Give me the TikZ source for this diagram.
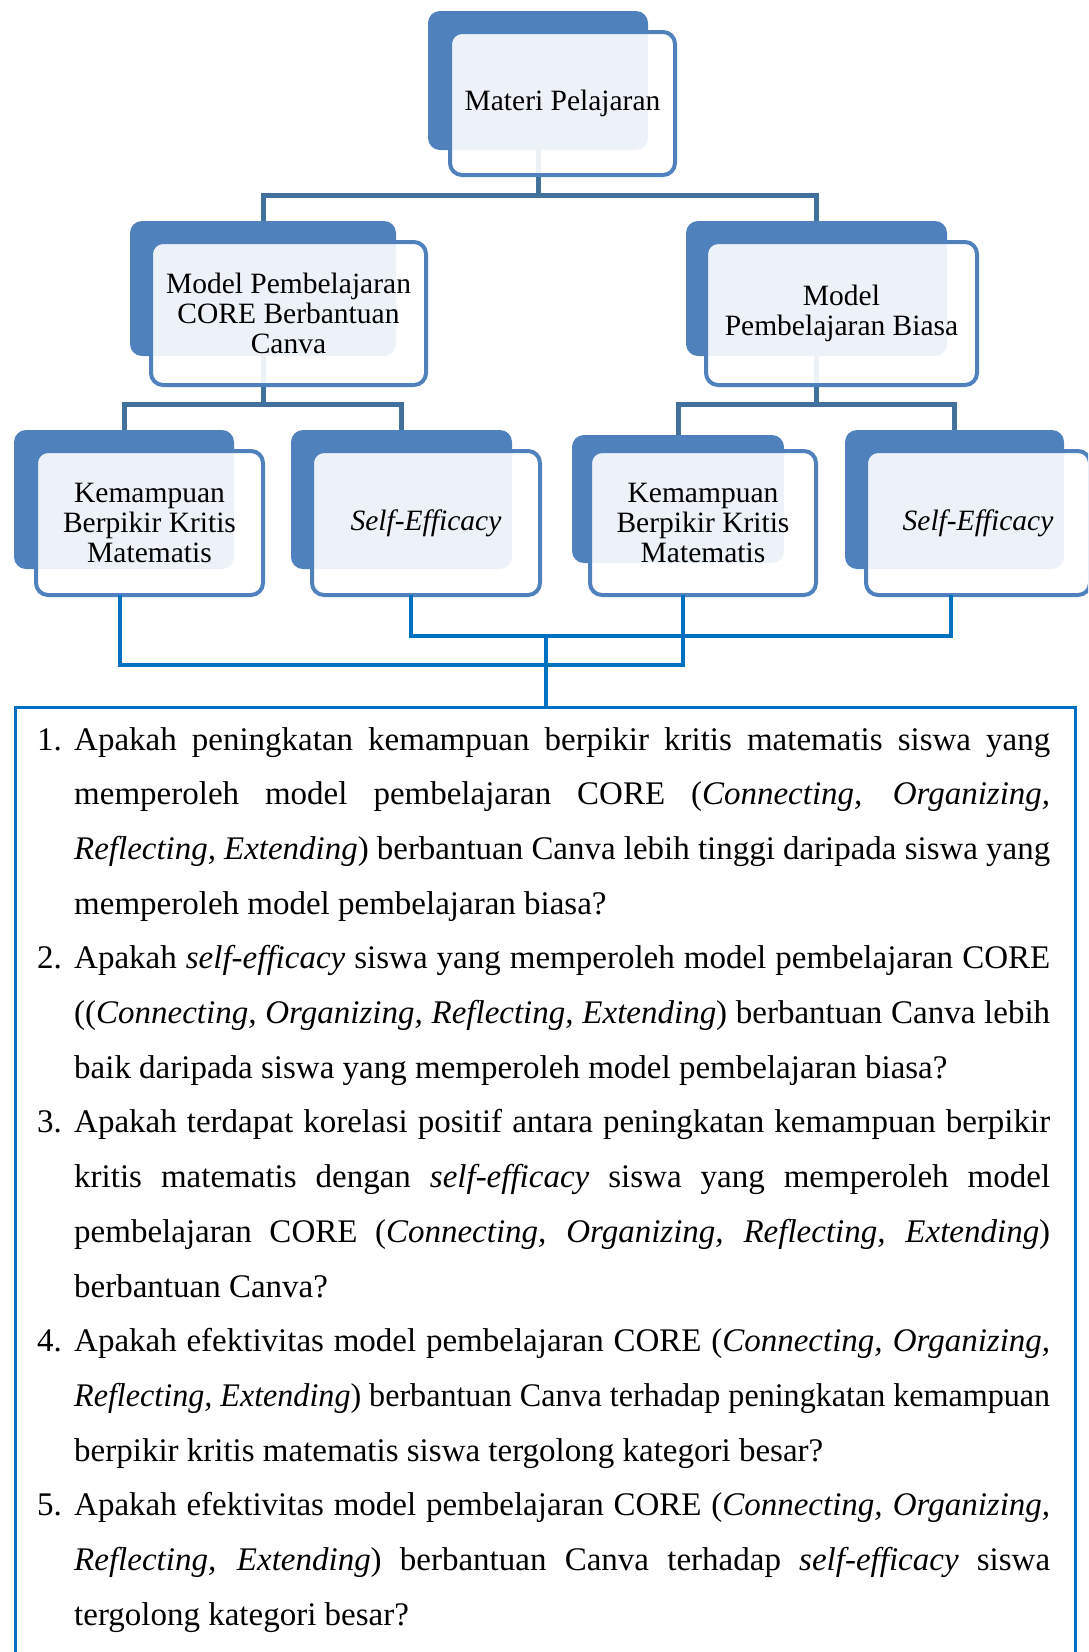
\documentclass[tikz,border=0pt]{standalone}
\usepackage{fontspec}
\setmainfont{Liberation Serif}
\usepackage{graphicx}
\definecolor{bk}{HTML}{4F81BD}
\definecolor{cn}{HTML}{41719C}
\definecolor{lc}{HTML}{0070C0}
\newlength\qw \setlength\qw{976pt}
\newsavebox\qsbox
\newcommand\jl[1]{\sbox\qsbox{#1}\ifdim\wd\qsbox>\qw\resizebox{\qw}{\height}{\usebox\qsbox}\else\makebox[\qw][s]{#1}\fi}
\newcommand\ql[2]{\hbox{\makebox[37pt][l]{#1}\jl{#2}}}
\newcommand\qn[2]{\hbox{\makebox[37pt][l]{#1}#2}}
\begin{document}
\begin{tikzpicture}[x=1pt,y=-1pt,
  backbox/.style={fill=bk, rounded corners=12pt, inner sep=0},
  frontbox/.style={draw=bk, line width=4pt, fill=white, fill opacity=0.9, text opacity=1,
    rounded corners=12pt, inner sep=0, align=center, font=\fontsize{29.5}{30}\selectfont},
  upconn/.style={draw=cn, line width=5pt},
  loconn/.style={draw=lc, line width=4pt}]
\clip (0,0) rectangle (1088,1652);
\fill[white] (0,0) rectangle (1088,1652);

% back shapes
\node[backbox, minimum width=220pt, minimum height=139pt] (tb) at (538,80.5) {};
\node[backbox, minimum width=266pt, minimum height=135pt] (mlb) at (263,288.5) {};
\node[backbox, minimum width=261pt, minimum height=135pt] (mrb) at (816.5,288.5) {};
\node[backbox, minimum width=220pt, minimum height=139pt] (b1b) at (124,499.5) {};
\node[backbox, minimum width=221pt, minimum height=139pt] (b2b) at (401.5,499.5) {};
\node[backbox, minimum width=212pt, minimum height=128pt] (b3b) at (678,499) {};
\node[backbox, minimum width=219pt, minimum height=139pt] (b4b) at (954.5,499.5) {};

% upper connectors
\coordinate (j0) at (538,195);
\coordinate (j1) at (263,404);
\coordinate (j2) at (816.5,404);
\draw[upconn] (tb.south) -- (j0);
\draw[upconn] (mlb.north) |- (j0);
\draw[upconn] (mrb.north) |- (j0);
\draw[upconn] (mlb.south) -- (j1);
\draw[upconn] (b1b.north) |- (j1);
\draw[upconn] (b2b.north) |- (j1);
\draw[upconn] (mrb.south) -- (j2);
\draw[upconn] (b3b.north) |- (j2);
\draw[upconn] (b4b.north) |- (j2);

% front shapes
\node[frontbox, minimum width=225pt, minimum height=143pt] (tf) at (562.5,103.5) {Materi Pelajaran};
\node[frontbox, minimum width=275pt, minimum height=143pt] (mlf) at (288.5,313.5) {Model Pembelajaran\\CORE Berbantuan\\Canva};
\node[frontbox, minimum width=271pt, minimum height=143pt] (mrf) at (841.5,313.5) {Model\\Pembelajaran Biasa};
\node[frontbox, minimum width=227pt, minimum height=144pt] (b1f) at (149.5,523) {Kemampuan\\Berpikir Kritis\\Matematis};
\node[frontbox, minimum width=228pt, minimum height=144pt] (b2f) at (426,523) {\textit{Self-Efficacy}};
\node[frontbox, minimum width=226pt, minimum height=144pt] (b3f) at (703,523) {Kemampuan\\Berpikir Kritis\\Matematis};
\node[frontbox, minimum width=224pt, minimum height=144pt] (b4f) at (978,523) {\textit{Self-Efficacy}};

% question frame
\node[draw=lc, line width=3pt, minimum width=1060pt, minimum height=1000pt, anchor=north west, inner sep=0] (qframe) at (14,706) {};

% lower connectors
\coordinate (d1) at (120,595);
\coordinate (d2) at (411,595);
\coordinate (d3) at (683,595);
\coordinate (d4) at (951,595);
\coordinate (h1) at (0,665);
\coordinate (h2) at (0,636);
\draw[loconn] (d1) |- (d3 |- h1) -- (d3);
\draw[loconn] (d2) |- (d4 |- h2) -- (d4);
\draw[loconn] (qframe.north |- h2) -- (qframe.north);

% questions
\node[anchor=base west, inner sep=0] (qs) at (37,750) {\parbox[t]{1013pt}{\fontsize{33}{54.7}\selectfont
\ql{1.}{Apakah peningkatan kemampuan berpikir kritis matematis siswa yang}
\ql{}{memperoleh model pembelajaran CORE (\textit{Connecting, Organizing,}}
\ql{}{\textit{Reflecting, Extending}) berbantuan Canva lebih tinggi daripada siswa yang}
\qn{}{memperoleh model pembelajaran biasa?}
\ql{2.}{Apakah \textit{self-efficacy} siswa yang memperoleh model pembelajaran CORE}
\ql{}{((\textit{Connecting, Organizing, Reflecting, Extending}) berbantuan Canva lebih}
\qn{}{baik daripada siswa yang memperoleh model pembelajaran biasa?}
\ql{3.}{Apakah terdapat korelasi positif antara peningkatan kemampuan berpikir}
\ql{}{kritis matematis dengan \textit{self-efficacy} siswa yang memperoleh model}
\ql{}{pembelajaran CORE (\textit{Connecting, Organizing, Reflecting, Extending})}
\qn{}{berbantuan Canva?}
\ql{4.}{Apakah efektivitas model pembelajaran CORE (\textit{Connecting, Organizing,}}
\ql{}{\textit{Reflecting, Extending}) berbantuan Canva terhadap peningkatan kemampuan}
\qn{}{berpikir kritis matematis siswa tergolong kategori besar?}
\ql{5.}{Apakah efektivitas model pembelajaran CORE (\textit{Connecting, Organizing,}}
\ql{}{\textit{Reflecting, Extending}) berbantuan Canva terhadap \textit{self-efficacy} siswa}
\qn{}{tergolong kategori besar?}
}};
\end{tikzpicture}
\end{document}
